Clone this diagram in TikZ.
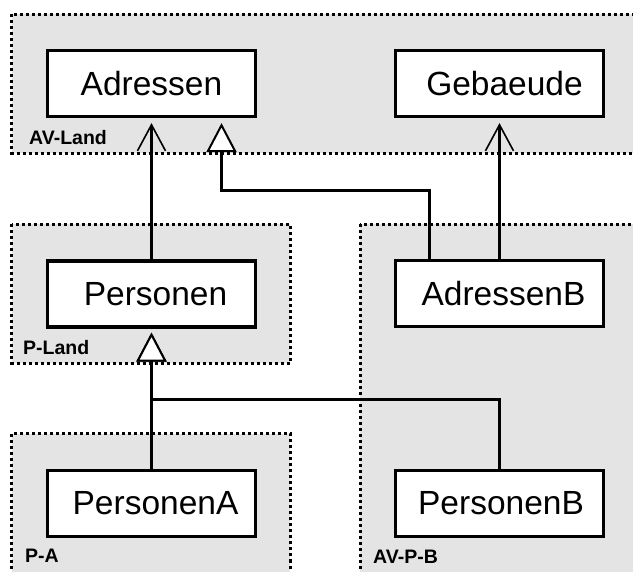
\documentclass[tikz,border=0pt]{standalone}
\usepackage{fontspec}
\newfontfamily\diafont{Liberation Sans}
\usetikzlibrary{arrows.meta}
\definecolor{regiongray}{RGB}{228,228,228}
\begin{document}
\begin{tikzpicture}[x=1pt,y=-1pt,
  region/.style={fill=regiongray, draw=black, line width=3pt, dash pattern=on 3pt off 3pt},
  classbox/.style={draw=black, fill=white, line width=3.2pt, minimum width=208pt, minimum height=66pt, inner sep=0pt, font=\diafont\fontsize{33.5}{36}\selectfont},
  lab/.style={inner sep=0pt, anchor=base west, font=\diafont\bfseries\fontsize{19.5}{22}\selectfont},
  gen/.style={line width=2.8pt, -{Triangle[open,fill=white,length=29pt,width=30pt,line width=2pt]}},
  dep/.style={line width=2.8pt, -{Straight Barb[length=26pt,width=28pt,line width=1.6pt]}}]
\useasboundingbox (0,0) rectangle (633,572);
\fill[white] (0,0) rectangle (633,572);
\begin{scope}
\clip (0,0) rectangle (633,572);
\draw[region] (11.5,14.5) rectangle (700,153.5);
\draw[region] (11.5,224.3) rectangle (290,363.3);
\draw[region] (360,224.3) rectangle (700,650);
\draw[region] (11.5,434) rectangle (290,650);
\end{scope}
\node[lab] (lavland) at (29,145) {AV-Land};
\node[lab] (lpland) at (23,355) {P-Land};
\node[lab] (lpa) at (25,562) {P-A};
\node[lab] (lavpb) at (373,563) {AV-P-B};
\node[classbox] (adr) at (151.5,83.5) {Adressen};
\node[classbox] (geb) at (499.5,83.5) {\hspace*{10pt}Gebaeude};
\node[classbox] (pers) at (151.5,294) {\hspace*{8pt}Personen};
\node[classbox] (adrB) at (499.5,293.5) {\hspace*{8pt}AdressenB};
\node[classbox] (persA) at (151.5,503.5) {\hspace*{8pt}PersonenA};
\node[classbox] (persB) at (499.5,503.5) {\hspace*{3pt}PersonenB};
\draw[dep] (pers.north) -- ([yshift=-5pt]adr.south);
\draw[dep] (adrB.north) -- ([yshift=-5pt]geb.south);
\draw[gen] ([xshift=-70pt]adrB.north) -- ++(0,-68) -| ([xshift=70pt,yshift=-5pt]adr.south);
\draw[gen] (persA.north) -- ([yshift=-4pt]pers.south);
\draw[gen] (persB.north) -- ++(0,-69) -| ([yshift=-4pt]pers.south);
\end{tikzpicture}
\end{document}
